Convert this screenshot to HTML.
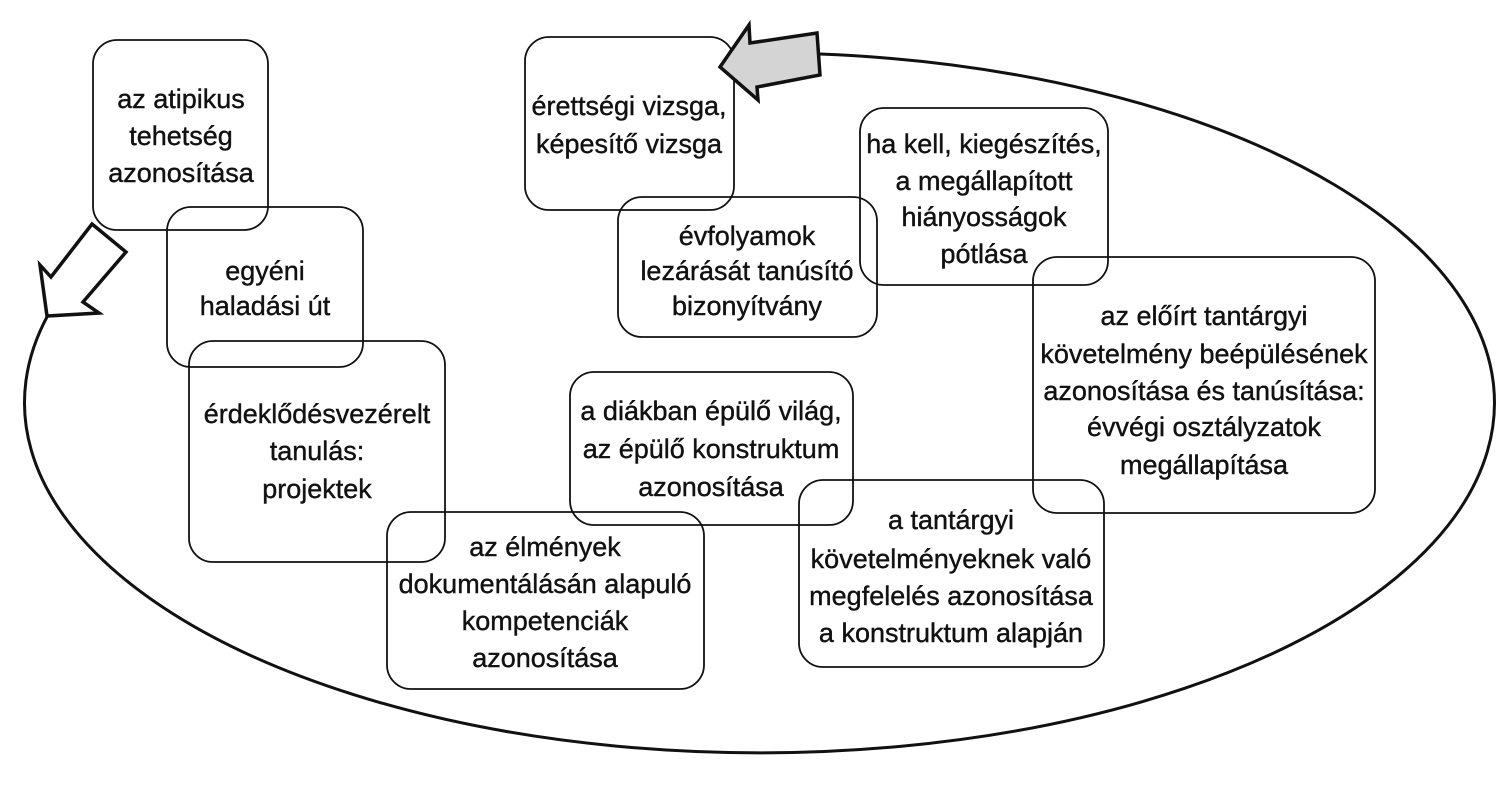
<!DOCTYPE html>
<html><head><meta charset="utf-8"><style>
html,body{margin:0;padding:0;background:#fff;}
svg{display:block;}
text{font-family:"Liberation Sans",sans-serif;font-size:27px;fill:#111;stroke:#111;stroke-width:0.4;text-anchor:middle;}
</style></head><body>
<svg width="1497" height="800" viewBox="0 0 1497 800" xmlns="http://www.w3.org/2000/svg">
<g fill="none" stroke="#111" stroke-width="3">
<path d="M 48 315 A 735 350 0 1 0 820 54"/>
</g>
<g fill="none" stroke="#111" stroke-width="1.8">
<rect x="93" y="40" width="175" height="190" rx="24"/>
<rect x="167" y="207" width="196" height="160" rx="24"/>
<rect x="189" y="341" width="256" height="221" rx="24"/>
<rect x="387" y="512" width="317" height="177" rx="24"/>
<rect x="570" y="372" width="283" height="153" rx="24"/>
<rect x="799" y="480" width="305" height="187" rx="24"/>
<rect x="1033" y="257" width="342" height="256" rx="24"/>
<rect x="860" y="108" width="248" height="177" rx="24"/>
<rect x="618" y="197" width="259" height="140" rx="24"/>
<rect x="525" y="37" width="209" height="173" rx="24"/>
</g>
<polygon points="92,224 126,252 83,302 99,313 47,316 40,265 51,277" fill="#fff" stroke="#111" stroke-width="3.5" stroke-linejoin="miter"/>
<polygon points="720,67 749,25 750,43 817,33 820,75 757,87 758,100" fill="#d4d4d4" stroke="#111" stroke-width="3.5"/>
<g>
<text transform="translate(181,108) scale(1,1)">az atipikus</text>
<text transform="translate(181,145) scale(1,1)">tehetség</text>
<text transform="translate(181,182) scale(1,1)">azonosítása</text>

<text transform="translate(265,280) scale(1,1)">egyéni</text>
<text transform="translate(265,315) scale(1,1)">haladási út</text>

<text transform="translate(317,423) scale(1,1)">érdeklődésvezérelt</text>
<text transform="translate(317,460) scale(1,1)">tanulás:</text>
<text transform="translate(317,498) scale(1,1)">projektek</text>

<text transform="translate(545,556) scale(1,1)">az élmények</text>
<text transform="translate(545,593) scale(1,1)">dokumentálásán alapuló</text>
<text transform="translate(545,630) scale(1,1)">kompetenciák</text>
<text transform="translate(545,667) scale(1,1)">azonosítása</text>

<text transform="translate(711,420) scale(1,1)">a diákban épülő világ,</text>
<text transform="translate(711,458) scale(1,1)">az épülő konstruktum</text>
<text transform="translate(711,496) scale(1,1)">azonosítása</text>

<text transform="translate(951,529) scale(1,1)">a tantárgyi</text>
<text transform="translate(951,568) scale(1,1)">követelményeknek való</text>
<text transform="translate(951,605) scale(1,1)">megfelelés azonosítása</text>
<text transform="translate(951,642) scale(1,1)">a konstruktum alapján</text>

<text transform="translate(1204,325) scale(1,1)">az előírt tantárgyi</text>
<text transform="translate(1204,363) scale(1,1)">követelmény beépülésének</text>
<text transform="translate(1204,400) scale(1,1)">azonosítása és tanúsítása:</text>
<text transform="translate(1204,436) scale(1,1)">évvégi osztályzatok</text>
<text transform="translate(1204,474) scale(1,1)">megállapítása</text>

<text transform="translate(984,153) scale(1,1)">ha kell, kiegészítés,</text>
<text transform="translate(984,190) scale(1,1)">a megállapított</text>
<text transform="translate(984,226) scale(1,1)">hiányosságok</text>
<text transform="translate(984,263) scale(1,1)">pótlása</text>

<text transform="translate(747,245) scale(1,1)">évfolyamok</text>
<text transform="translate(747,280) scale(1,1)">lezárását tanúsító</text>
<text transform="translate(747,315) scale(1,1)">bizonyítvány</text>

<text transform="translate(629,115) scale(1,1)">érettségi vizsga,</text>
<text transform="translate(629,153) scale(1,1)">képesítő vizsga</text>
</g>
</svg>
</body></html>
